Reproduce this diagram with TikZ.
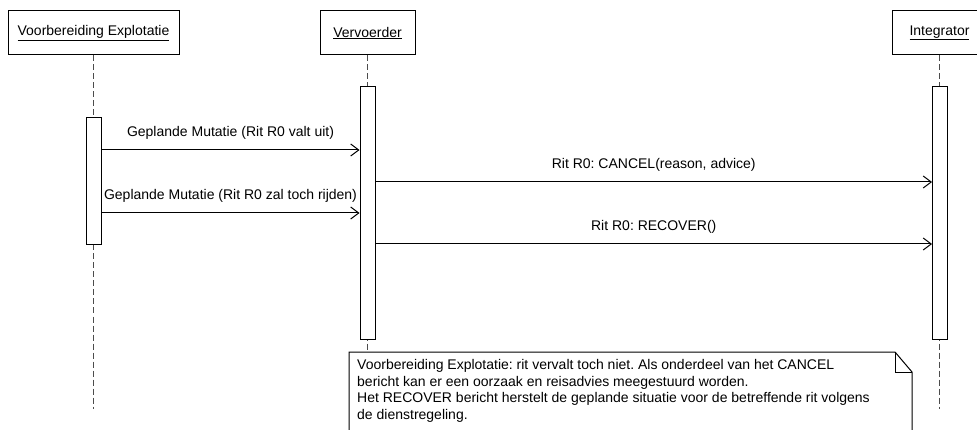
\documentclass[tikz,border=0pt]{standalone}
\usepackage{fontspec}
\setmainfont{Liberation Sans}
\usetikzlibrary{arrows.meta}
\frenchspacing
\tikzset{
  head/.style={draw, line width=1pt, fill=white, minimum height=44pt, inner sep=0pt},
  act/.style={draw, line width=1pt, fill=white, minimum width=15pt, inner sep=0pt},
  lifeline/.style={draw=black!70, line width=1pt, dash pattern=on 6pt off 3pt},
  msg/.style={draw, line width=1pt, -{Straight Barb[length=8pt,width=12pt,line width=1pt]}},
  msglabel/.style={midway, anchor=base, yshift=13.5pt, inner sep=0pt},
  notebox/.style={draw, line width=1pt, fill=white},
}
\begin{document}
\begin{tikzpicture}[x=1pt,y=-1pt, font=\fontsize{14}{16.7}\selectfont]
\useasboundingbox (0,0) rectangle (977,430);
\clip (0,0) rectangle (977,430);

% lifeline ends
\coordinate (e1) at (93,409);
\coordinate (e2) at (367.5,352);
\coordinate (e3) at (939.5,409);

% heads
\node[head, minimum width=171pt] (h1) at (93.5,33) {\underline{Voorbereiding Explotatie}};
\node[head, minimum width=95pt] (h2) at (367.5,33) {\underline{Vervoerder}};
\node[head, minimum width=94pt] (h3) at (939.5,33) {\underline{Integrator}};

% lifelines
\draw[lifeline] (h1.south -| e1) -- (e1);
\draw[lifeline] (h2.south) -- (e2);
\draw[lifeline] (h3.south) -- (e3);

% activations
\node[act, minimum height=127pt] (a1) at (93.5,181.5) {};
\node[act, minimum height=252pt] (a2) at (367.5,213) {};
\node[act, minimum height=252pt] (a3) at (940,213) {};

% messages
\coordinate (m1) at (0,150);
\coordinate (m2) at (0,213);
\coordinate (m3) at (0,182);
\coordinate (m4) at (0,244);
\draw[msg] (a1.east |- m1) -- node[msglabel] (l1) {Geplande Mutatie (Rit R0 valt uit)} (a2.west |- m1);
\draw[msg] (a1.east |- m2) -- node[msglabel] (l2) {Geplande Mutatie (Rit R0 zal toch rijden)} (a2.west |- m2);
\draw[msg] (a2.east |- m3) -- node[msglabel] (l3) {Rit R0: CANCEL(reason, advice)} (a3.west |- m3);
\draw[msg] (a2.east |- m4) -- node[msglabel] (l4) {Rit R0: RECOVER()} (a3.west |- m4);

% note
\coordinate (n1) at (349,352);
\coordinate (n2) at (895,352);
\coordinate (n3) at (912,372);
\coordinate (n4) at (912,445);
\coordinate (n5) at (349,445);
\draw[notebox] (n1) -- (n2) -- (n3) -- (n4) -- (n5) -- cycle;
\draw[line width=1pt] (n2) -- (n2 |- n3) -- (n3);
\node[anchor=north west, inner sep=0pt, align=left, font=\fontsize{14}{16.7}\selectfont] (nt) at (357,359)
 {Voorbereiding Explotatie: rit vervalt toch niet. Als onderdeel van het CANCEL\\
  bericht kan er een oorzaak en reisadvies meegestuurd worden.\\
  Het RECOVER bericht herstelt de geplande situatie voor de betreffende rit volgens\\
  de dienstregeling.};
\end{tikzpicture}
\end{document}
